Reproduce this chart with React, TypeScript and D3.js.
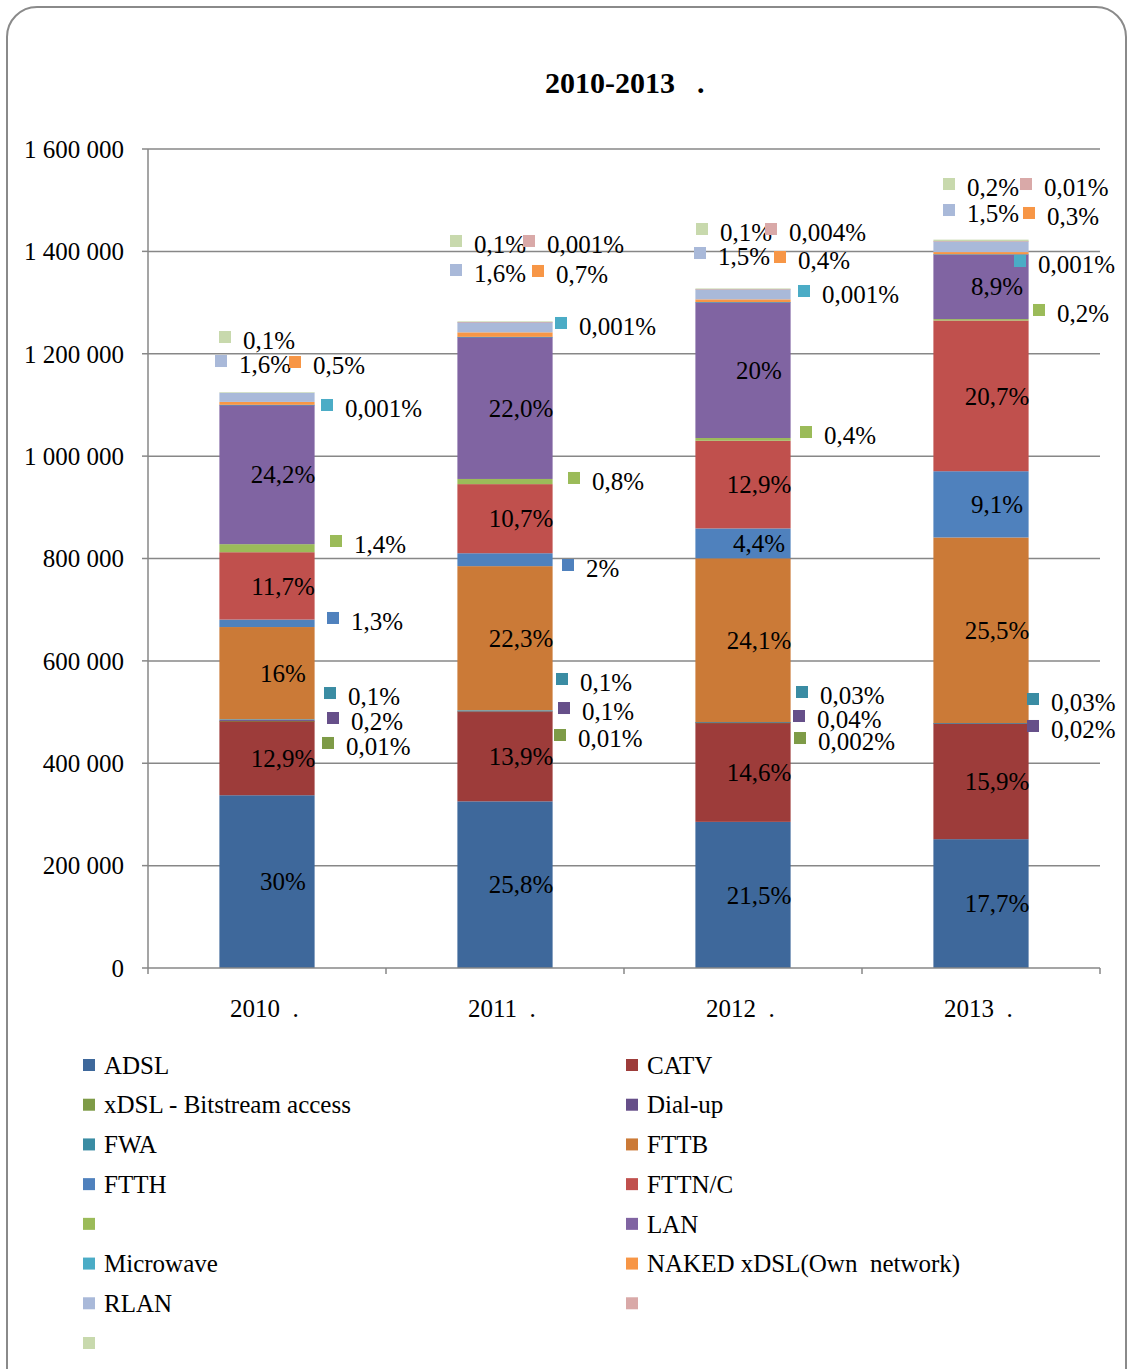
import React from "react";
import * as d3 from "d3";

// ---- data ----
const categories = ["2010", "2011", "2012", "2013"];
const categoryLabels = ["2010  .", "2011  .", "2012  .", "2013  ."];
const seriesNames = [
  "ADSL", "CATV", "xDSL - Bitstream access", "Dial-up", "FWA", "FTTB", "FTTH",
  "FTTN/C", "", "LAN", "Microwave", "NAKED xDSL(Own  network)", "RLAN", "", "",
];
const seriesColors = [
  "#3E689B", "#9D3C3A", "#7E9B47", "#664F89", "#3A8CA3", "#CB7A37", "#4F81BD",
  "#C0504D", "#9BBB59", "#8064A2", "#4BACC6", "#F79646", "#A9B9D9", "#D9A9A8", "#C8D9AD",
];

const adsl = [337500, 325600, 285500, 251700];
const catv = [145100, 175400, 193900, 226100];
const xdslBitstream = [110, 126, 27, 0];
const dialup = [2250, 1262, 530, 280];
const fwa = [1125, 1262, 400, 430];
const fttb = [180000, 281400, 320000, 362600];
const ftth = [14600, 25240, 58400, 129400];
const fttnc = [131600, 135000, 171300, 294400];
const unnamedGreen = [15750, 10100, 5300, 2840];
const lan = [272250, 277600, 265600, 126600];
const microwave = [11, 13, 13, 14];
const nakedXdsl = [5600, 8830, 5300, 4270];
const rlan = [18000, 20200, 19900, 21300];
const unnamedPink = [0, 13, 53, 140];
const unnamedPale = [1125, 1262, 1330, 2840];

const adslLabels = ["30%", "25,8%", "21,5%", "17,7%"];
const catvLabels = ["12,9%", "13,9%", "14,6%", "15,9%"];
const xdslLabels = ["0,01%", "0,01%", "0,002%", ""];
const dialupLabels = ["0,2%", "0,1%", "0,04%", "0,02%"];
const fwaLabels = ["0,1%", "0,1%", "0,03%", "0,03%"];
const fttbLabels = ["16%", "22,3%", "24,1%", "25,5%"];
const ftthLabels = ["1,3%", "2%", "4,4%", "9,1%"];
const fttncLabels = ["11,7%", "10,7%", "12,9%", "20,7%"];
const greenLabels = ["1,4%", "0,8%", "0,4%", "0,2%"];
const lanLabels = ["24,2%", "22,0%", "20%", "8,9%"];
const microwaveLabels = ["0,001%", "0,001%", "0,001%", "0,001%"];
const nakedLabels = ["0,5%", "0,7%", "0,4%", "0,3%"];
const rlanLabels = ["1,6%", "1,6%", "1,5%", "1,5%"];
const pinkLabels = ["", "0,001%", "0,004%", "0,01%"];
const paleLabels = ["0,1%", "0,1%", "0,1%", "0,2%"];

const yTicks = [0, 200000, 400000, 600000, 800000, 1000000, 1200000, 1400000, 1600000];

const seriesValues = [
  adsl, catv, xdslBitstream, dialup, fwa, fttb, ftth, fttnc,
  unnamedGreen, lan, microwave, nakedXdsl, rlan, unnamedPink, unnamedPale,
];
const seriesLabels = [
  adslLabels, catvLabels, xdslLabels, dialupLabels, fwaLabels, fttbLabels, ftthLabels,
  fttncLabels, greenLabels, lanLabels, microwaveLabels, nakedLabels, rlanLabels, pinkLabels, paleLabels,
];

// labels drawn inside the bar (series index -> which categories)
const insideLabels: Record<number, number[]> = {
  0: [0, 1, 2, 3], 1: [0, 1, 2, 3], 5: [0, 1, 2, 3], 6: [2, 3], 7: [0, 1, 2, 3], 9: [0, 1, 2, 3],
};

// outside label placement: [series, category, key dx from bar centre, anchor value]
const outsideLayout: [number, number, number, number][] = [
  [14, 0, -48, 1232700], [12, 0, -52, 1185800], [11, 0, 22, 1183900], [10, 0, 54, 1099900],
  [8, 0, 63, 834200], [6, 0, 60, 683800], [4, 0, 57, 537200], [3, 0, 60, 488400], [2, 0, 55, 439600],
  [14, 1, -55, 1420300], [13, 1, 18, 1420300], [12, 1, -55, 1363600], [11, 1, 27, 1361700],
  [10, 1, 50, 1260100], [8, 1, 63, 957300], [6, 1, 57, 787300], [4, 1, 51, 564600],
  [3, 1, 53, 507900], [2, 1, 49, 455200],
  [14, 2, -47, 1443700], [13, 2, 22, 1443700], [12, 2, -49, 1396800], [11, 2, 31, 1389000],
  [10, 2, 55, 1322600], [8, 2, 57, 1047100], [4, 2, 53, 539200], [3, 2, 50, 492300], [2, 2, 51, 449300],
  [14, 3, -38, 1531600], [13, 3, 39, 1531600], [12, 3, -38, 1480800], [11, 3, 42, 1475000],
  [10, 3, 33, 1381200], [8, 3, 52, 1285500], [4, 3, 46, 525500], [3, 3, 46, 472800],
];

const FONT = "'Liberation Serif', 'Times New Roman', serif";

export default function App() {
  const W = 1128;
  const H = 1369;
  const left = 148;
  const right = 1100;
  const top = 149;
  const bottom = 968;

  const x = d3.scaleBand<string>().domain(categories).range([left, right]).paddingInner(0).paddingOuter(0);
  const y = d3.scaleLinear().domain([0, 1600000]).range([bottom, top]);
  const barW = x.bandwidth() * 0.4;

  const table = categories.map((c, ci) => {
    const row: any = { cat: c };
    seriesValues.forEach((arr, si) => (row["s" + si] = arr[ci]));
    return row;
  });
  const keys = seriesValues.map((_, si) => "s" + si);
  const stacked = d3.stack<any>().keys(keys)(table);

  const fmt = (v: number) => d3.format(",")(v).replace(/,/g, "\u00A0");
  const gridColor = "#878787";

  const legendRows = Math.ceil(seriesNames.length / 2);

  return (
    <svg width={W} height={H} style={{ position: "absolute", left: 0, top: 0 }} fontFamily={FONT}>
      <rect x={0} y={0} width={W} height={H} fill="#ffffff" />
      <rect x={7} y={7} width={1119} height={1400} rx={30} ry={30} fill="#ffffff" stroke="#8a8a8a" strokeWidth={2} />

      <text x={545} y={93} fontSize={30} fontWeight="bold" fill="#000">
        2010-2013<tspan dx={22}>.</tspan>
      </text>

      {/* grid */}
      {yTicks.map((t) => (
        <g key={t}>
          {t > 0 && <line x1={left} x2={right} y1={y(t)} y2={y(t)} stroke={gridColor} strokeWidth={1.5} />}
          <line x1={left - 6} x2={left} y1={y(t)} y2={y(t)} stroke={gridColor} strokeWidth={1.5} />
          <text x={124} y={y(t)} dy="0.35em" textAnchor="end" fontSize={25} fill="#000">
            {fmt(t)}
          </text>
        </g>
      ))}

      {/* bars */}
      {stacked.map((layer, si) => (
        <g key={layer.key} fill={seriesColors[si]}>
          {layer.map((d, ci) => {
            const h = y(d[0]) - y(d[1]);
            if (h <= 0) return null;
            const cx = (x(categories[ci]) as number) + x.bandwidth() / 2;
            return <rect key={ci} x={cx - barW / 2} y={y(d[1])} width={barW} height={Math.max(h, 0.6)} />;
          })}
        </g>
      ))}

      {/* axes */}
      <line x1={left} x2={left} y1={top} y2={bottom} stroke={gridColor} strokeWidth={1.5} />
      <line x1={left} x2={right} y1={bottom} y2={bottom} stroke={gridColor} strokeWidth={1.5} />
      {categories.map((c, i) => (
        <line key={"tk" + i} x1={x(c) as number} x2={x(c) as number} y1={bottom} y2={bottom + 6} stroke={gridColor} strokeWidth={1.5} />
      ))}
      <line x1={right} x2={right} y1={bottom} y2={bottom + 6} stroke={gridColor} strokeWidth={1.5} />
      {categories.map((c, i) => (
        <text key={"xl" + i} x={(x(c) as number) + x.bandwidth() / 2 - 37} y={1008} dy="0.35em" fontSize={25} fill="#000" style={{ whiteSpace: "pre" }}>
          {categoryLabels[i]}
        </text>
      ))}

      {/* inside labels */}
      {Object.entries(insideLabels).map(([sk, cats]) => {
        const si = +sk;
        return cats.map((ci) => {
          const d = stacked[si][ci];
          const cx = (x(categories[ci]) as number) + x.bandwidth() / 2;
          const cy = (y(d[0]) + y(d[1])) / 2;
          return (
            <text key={"in" + si + "-" + ci} x={cx + 16} y={cy} dy="0.35em" textAnchor="middle" fontSize={25} fill="#000">
              {seriesLabels[si][ci]}
            </text>
          );
        });
      })}

      {/* outside labels */}
      {outsideLayout.map(([si, ci, dx, v]) => {
        const cx = (x(categories[ci]) as number) + x.bandwidth() / 2;
        const my = y(v);
        return (
          <g key={"out" + si + "-" + ci}>
            <rect x={cx + dx} y={my - 6} width={12} height={12} fill={seriesColors[si]} />
            <text x={cx + dx + 24} y={my + 3} dy="0.35em" fontSize={25} fill="#000">
              {seriesLabels[si][ci]}
            </text>
          </g>
        );
      })}

      {/* legend */}
      {seriesNames.map((name, i) => {
        const col = i % 2;
        const row = Math.floor(i / 2);
        const lx = col === 0 ? 83 : 626;
        const ly = 1065 + row * ((1343 - 1065) / (legendRows - 1));
        return (
          <g key={"lg" + i}>
            <rect x={lx} y={ly - 6} width={12} height={12} fill={seriesColors[i]} />
            <text x={lx + 21} y={ly} dy="0.35em" fontSize={25} fill="#000" style={{ whiteSpace: "pre" }}>
              {name}
            </text>
          </g>
        );
      })}
    </svg>
  );
}
